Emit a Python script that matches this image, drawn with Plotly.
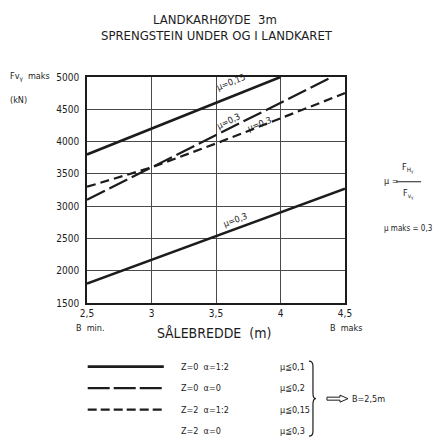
import plotly.graph_objects as go

# ---- data ----
x_ticks = [2.5, 3, 3.5, 4, 4.5]
x_ticklabels = ["2,5", "3", "3,5", "4", "4,5"]
y_ticks = [1500, 2000, 2500, 3000, 3500, 4000, 4500, 5000]

x_solid_upper = [2.5, 3, 3.5, 4]
y_solid_upper = [3800, 4200, 4600, 5000]

x_long_dash = [2.5, 3, 3.5, 4, 4.4]
y_long_dash = [3100, 3600, 4100, 4600, 5000]

x_short_dash = [2.5, 3, 3.5, 4, 4.5]
y_short_dash = [3300, 3600, 3970, 4360, 4750]

x_solid_lower = [2.5, 3, 3.5, 4, 4.5]
y_solid_lower = [1800, 2170, 2530, 2900, 3270]

legend_case = ["Z=0  α=1:2", "Z=0  α=0", "Z=2  α=1:2", "Z=2  α=0"]
legend_mu = ["μ≦0,1", "μ≦0,2", "μ≦0,15", "μ≦0,3"]

FONT = "Liberation Sans Narrow, DejaVu Sans Condensed, Liberation Sans, sans-serif"
INK = "#1c1c1c"
W, H = 441, 442
PX0, PX1, PY0, PY1 = 87.3, 345.0, 76.7, 302.8


def px(x):
    return (x - PX0) / (PX1 - PX0)


def py(y):
    return (PY1 - y) / (PY1 - PY0)


fig = go.Figure()
fig.add_trace(go.Scatter(x=x_solid_upper, y=y_solid_upper, mode="lines",
                         line=dict(color=INK, width=2.6), showlegend=False))
fig.add_trace(go.Scatter(x=x_long_dash, y=y_long_dash, mode="lines",
                         line=dict(color=INK, width=2.2, dash="20px,5px"), showlegend=False))
fig.add_trace(go.Scatter(x=x_short_dash, y=y_short_dash, mode="lines",
                         line=dict(color=INK, width=2.2, dash="9px,5px"), showlegend=False))
fig.add_trace(go.Scatter(x=x_solid_lower, y=y_solid_lower, mode="lines",
                         line=dict(color=INK, width=2.6), showlegend=False))

ann = []


def text(x, y, t, size=9, xanchor="left", angle=0, yanchor="middle"):
    ann.append(dict(x=px(x), y=py(y), xref="paper", yref="paper", text=t, showarrow=False,
                    xanchor=xanchor, yanchor=yanchor, textangle=angle,
                    font=dict(family=FONT, size=size, color=INK)))


def dtext(x, y, t, angle):
    ann.append(dict(x=x, y=y, xref="x", yref="y", text=t, showarrow=False,
                    textangle=angle, font=dict(family=FONT, size=9, color=INK)))


# line labels
dtext(3.62, 4920, "μ=0,15", -22)
dtext(3.60, 4320, "μ=0,3", -26)
dtext(3.84, 4270, "μ=0,3", -21)
dtext(3.65, 2780, "μ=0,3", -20)

# title
text(215, 19, "LANDKARHØYDE  3m", size=13, xanchor="center")
text(217, 35, "SPRENGSTEIN UNDER OG I LANDKARET", size=13, xanchor="center")

# y label
text(8, 77, "Fv<sub>γ</sub>  maks", size=9)
text(8, 100, "(kN)", size=9)

# x labels
text(74, 328, "B  min.", size=9)
text(214, 333, "SÅLEBREDDE  (m)", size=14, xanchor="center")
text(328, 328, "B  maks", size=9)

# formula on right
text(382, 181, "μ =", size=9)
text(408, 168, "F<sub>H<sub>γ</sub></sub>", size=9, xanchor="center")
text(408, 194, "F<sub>v<sub>γ</sub></sub>", size=9, xanchor="center")
text(382, 228, "μ maks = 0,3", size=8)

# legend texts
leg_y = [366.5, 388, 409.5, 431]
for yy, c, m in zip(leg_y, legend_case, legend_mu):
    text(179, yy, c, size=9)
    text(278, yy, m, size=9)
text(350, 398.5, "B=2,5m", size=9)

shapes = [
    # legend samples
    dict(type="line", xref="paper", yref="paper", x0=px(88), x1=px(164), y0=py(366.5), y1=py(366.5),
         line=dict(color=INK, width=2.6)),
    dict(type="line", xref="paper", yref="paper", x0=px(88), x1=px(164), y0=py(388), y1=py(388),
         line=dict(color=INK, width=2.2, dash="22px,4px")),
    dict(type="line", xref="paper", yref="paper", x0=px(88), x1=px(164), y0=py(409.5), y1=py(409.5),
         line=dict(color=INK, width=2.2, dash="9px,4px")),
    # fraction bar
    dict(type="line", xref="paper", yref="paper", x0=px(396), x1=px(421), y0=py(181.5), y1=py(181.5),
         line=dict(color=INK, width=1)),
    # brace
    dict(type="path", xref="paper", yref="paper",
         path=(f"M {px(309)},{py(361)} Q {px(313)},{py(361)} {px(313)},{py(366)} "
               f"L {px(313)},{py(393)} Q {px(313)},{py(398.5)} {px(316)},{py(398.5)} "
               f"Q {px(313)},{py(398.5)} {px(313)},{py(404)} "
               f"L {px(313)},{py(431)} Q {px(313)},{py(436)} {px(309)},{py(436)}"),
         line=dict(color=INK, width=1.2)),
    # hollow arrow
    dict(type="path", xref="paper", yref="paper",
         path=(f"M {px(327)},{py(397)} L {px(340)},{py(397)} L {px(340)},{py(395)} "
               f"L {px(348)},{py(398.5)} L {px(340)},{py(402)} L {px(340)},{py(400)} "
               f"L {px(327)},{py(400)} Z"),
         line=dict(color=INK, width=1), fillcolor="white"),
]

fig.update_layout(
    width=W, height=H,
    margin=dict(l=PX0, r=W - PX1, t=PY0, b=H - PY1, pad=0),
    paper_bgcolor="white", plot_bgcolor="white",
    annotations=ann, shapes=shapes,
    font=dict(family=FONT, size=9, color=INK),
    xaxis=dict(range=[2.5, 4.5], tickvals=x_ticks, ticktext=x_ticklabels,
               showgrid=True, gridcolor="#4a4a4a", gridwidth=1.2,
               showline=True, linecolor=INK, linewidth=1.5, mirror=True,
               ticks="", ticklen=0, zeroline=False,
               tickfont=dict(family=FONT, size=10, color=INK)),
    yaxis=dict(range=[1500, 5000], tickvals=y_ticks,
               showgrid=True, gridcolor="#4a4a4a", gridwidth=1.2,
               showline=True, linecolor=INK, linewidth=1.5, mirror=True,
               ticks="outside", ticklen=4, tickcolor="white", zeroline=False,
               tickfont=dict(family=FONT, size=10, color=INK)),
)

fig.write_html(
    "out.html",
    config={"displayModeBar": False},
    post_script="document.body.style.margin='0';document.body.style.overflow='hidden';",
)
